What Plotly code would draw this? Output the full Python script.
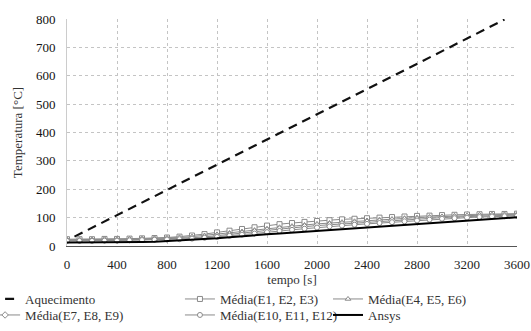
import plotly.graph_objects as go

# time axis for the measured means and Ansys (s)
tempo = list(range(0, 3700, 100))

# heating curve (read points)
t_aq = [60, 400, 800, 1200, 1600, 2000, 2400, 2800, 3200, 3500]
aquecimento = [33, 109, 198, 287, 376, 464, 553, 642, 731, 798]

media_e1_e3 = [24, 24, 24, 25, 25, 26, 27, 28, 30, 33, 37, 42, 48, 54, 60, 66, 72, 77, 81, 85,
               88, 91, 94, 96, 98, 100, 102, 104, 106, 107, 109, 110, 111, 112, 113, 113, 114]
media_e4_e6 = [22, 22, 22, 23, 23, 24, 25, 26, 28, 30, 33, 37, 41, 46, 51, 56, 61, 66, 70, 74,
               78, 81, 84, 87, 90, 93, 95, 98, 100, 102, 104, 106, 107, 109, 110, 111, 112]
media_e7_e9 = [20, 20, 20, 21, 21, 22, 23, 24, 25, 27, 29, 32, 36, 40, 45, 50, 55, 60, 64, 68,
               72, 75, 78, 81, 84, 87, 90, 93, 95, 98, 100, 102, 104, 106, 107, 108, 109]
media_e10_e12 = [18, 18, 18, 19, 19, 20, 21, 22, 23, 24, 26, 29, 32, 36, 40, 44, 49, 53, 57, 61,
                 65, 69, 72, 75, 78, 81, 84, 87, 90, 93, 96, 98, 100, 102, 104, 105, 106]
ansys = [12, 12, 12, 12, 13, 13, 14, 15, 17, 19, 21, 24, 27, 31, 35, 38, 41, 44, 47, 50,
         53, 56, 59, 62, 65, 68, 71, 74, 77, 80, 83, 86, 89, 92, 95, 98, 101]

x_ticks = list(range(0, 4000, 400))
y_ticks = list(range(0, 900, 100))

FONT = "Liberation Serif"
GRAY = "#8a8a8a"
FS = 13

fig = go.Figure()

fig.add_trace(go.Scatter(x=t_aq, y=aquecimento, mode="lines", name="Aquecimento",
                         line=dict(color="#111", width=2.2, dash="9px,6px"), legend="legend2"))

def media(y, name, symbol, leg):
    fig.add_trace(go.Scatter(x=tempo, y=y, mode="lines+markers", name=name,
                             line=dict(color=GRAY, width=1),
                             marker=dict(symbol=symbol, size=5, color="white",
                                         line=dict(color=GRAY, width=1)),
                             legend=leg))

media(media_e1_e3, "Média(E1, E2, E3)", "square", "legend3")
media(media_e4_e6, "Média(E4, E5, E6)", "triangle-up", "legend4")
media(media_e7_e9, "Média(E7, E8, E9)", "diamond", "legend5")
media(media_e10_e12, "Média(E10, E11, E12)", "circle", "legend6")

fig.add_trace(go.Scatter(x=tempo, y=ansys, mode="lines", name="Ansys",
                         line=dict(color="black", width=2), legend="legend7"))

def leg(x, y):
    return dict(orientation="v", yanchor="middle", y=y, xanchor="left", x=x,
                font=dict(family=FONT, size=FS, color="#333"),
                bgcolor="rgba(0,0,0,0)", itemwidth=30)

r1, r2 = -0.2335, -0.304
c1, c2, c3 = -0.182, 0.251, 0.58

fig.update_layout(
    width=531, height=331,
    margin=dict(l=67, r=14, t=19, b=85, autoexpand=False),
    paper_bgcolor="white", plot_bgcolor="white",
    font=dict(family=FONT, size=FS, color="#333"),
    showlegend=True,
    legend2=leg(c1, r1), legend3=leg(c2, r1), legend4=leg(c3, r1),
    legend5=leg(c1, r2), legend6=leg(c2, r2), legend7=leg(c3, r2),
    xaxis=dict(range=[0, 3600], tickvals=x_ticks, showgrid=True,
               gridcolor="#c4c4c4", griddash="dot", gridwidth=1,
               showline=True, linecolor="#555", linewidth=1, zeroline=False,
               ticks="outside", ticklen=6, tickcolor="rgba(0,0,0,0)",
               tickfont=dict(family=FONT, size=FS, color="#222"),
               title=dict(text="tempo [s]", standoff=3,
                          font=dict(family=FONT, size=FS, color="#333"))),
    yaxis=dict(range=[0, 800], tickvals=y_ticks, showgrid=True,
               gridcolor="#c4c4c4", griddash="dot", gridwidth=1,
               showline=True, linecolor="#cccccc", linewidth=1, zeroline=False,
               ticks="outside", ticklen=8, tickcolor="rgba(0,0,0,0)",
               tickfont=dict(family=FONT, size=FS, color="#111"),
               title=dict(text="Temperatura [°C]", standoff=10,
                          font=dict(family=FONT, size=FS, color="#333"))),
)

fig.write_html("out.html")
